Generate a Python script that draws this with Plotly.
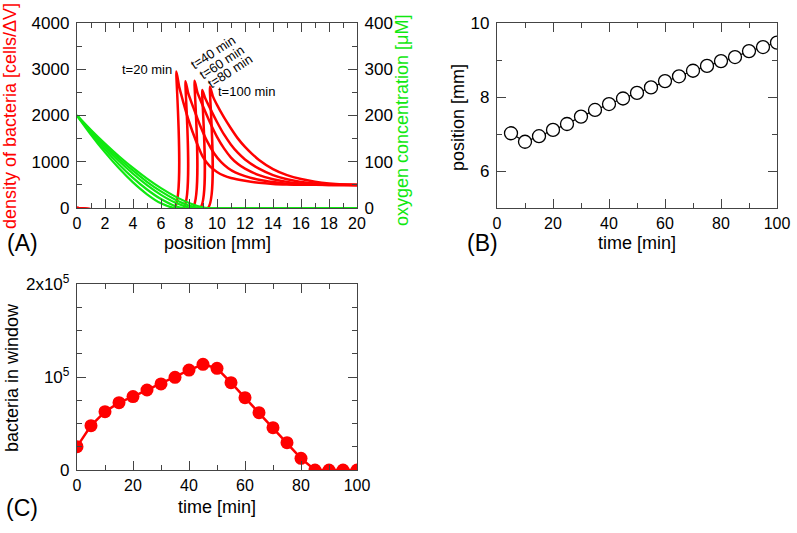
import plotly.graph_objects as go

# ---- panel A: bacteria density profiles (cells/dV) ----
x_t20 = [0, 6.95, 7.1, 7.3, 7.6, 8.0, 8.5, 9.0, 9.5, 10, 10.5, 11, 12, 13, 14, 15, 16, 18, 20]
b_t20 = [0, 0, 2950, 2620, 2280, 1870, 1450, 1100, 900, 780, 700, 650, 590, 545, 520, 508, 502, 500, 500]
x_t40 = [0, 7.6, 7.75, 7.95, 8.3, 8.8, 9.3, 9.8, 10.3, 10.8, 11.3, 12, 13, 14, 15, 16, 17, 18, 20]
b_t40 = [0, 0, 2740, 2480, 2180, 1780, 1440, 1180, 990, 860, 770, 690, 610, 560, 525, 510, 503, 500, 500]
x_t60 = [0, 8.25, 8.4, 8.6, 9.0, 9.5, 10, 10.5, 11, 11.5, 12, 13, 14, 15, 16, 17, 18, 20]
b_t60 = [0, 0, 2750, 2500, 2200, 1850, 1540, 1290, 1090, 950, 850, 710, 620, 565, 530, 512, 503, 500]
x_t80 = [0, 8.8, 8.95, 9.15, 9.5, 10, 10.5, 11, 11.5, 12, 13, 14, 15, 16, 17, 18, 19, 20]
b_t80 = [0, 0, 2550, 2380, 2160, 1860, 1590, 1370, 1190, 1050, 850, 710, 620, 565, 530, 510, 502, 500]
x_t100 = [0, 9.35, 9.5, 9.7, 10, 10.5, 11, 11.5, 12, 12.5, 13, 14, 15, 16, 17, 18, 19, 20]
b_t100 = [0, 0, 2620, 2420, 2230, 1960, 1720, 1500, 1320, 1170, 1040, 840, 710, 625, 568, 530, 508, 500]

# ---- panel A: oxygen profiles (uM) ----
ox_t20 = [0, 1, 2, 3, 4, 5, 6, 6.95, 20]
o_t20 = [200, 158.4, 120.2, 85.7, 55.3, 29.7, 10.1, 0, 0]
ox_t40 = [0, 1, 2, 3, 4, 5, 6, 7, 7.6, 20]
o_t40 = [200, 161.9, 126.5, 94.2, 65.2, 40.0, 19.3, 4.4, 0, 0]
ox_t60 = [0, 1, 2, 3, 4, 5, 6, 7, 8, 8.25, 20]
o_t60 = [200, 164.8, 131.9, 101.5, 74.0, 49.4, 28.5, 11.8, 1.1, 0, 0]
ox_t80 = [0, 1, 2, 3, 4, 5, 6, 7, 8, 8.8, 20]
o_t80 = [200, 166.9, 135.8, 107.0, 80.6, 56.7, 35.9, 18.5, 5.5, 0, 0]
ox_t100 = [0, 1, 2, 3, 4, 5, 6, 7, 8, 9, 9.35, 20]
o_t100 = [200, 168.8, 139.4, 111.9, 86.6, 63.5, 42.9, 25.2, 11.0, 1.4, 0, 0]

# ---- panel B: front position ----
time_b = [5, 10, 15, 20, 25, 30, 35, 40, 45, 50, 55, 60, 65, 70, 75, 80, 85, 90, 95, 100]
front_pos = [7.02, 6.79, 6.94, 7.11, 7.27, 7.47, 7.65, 7.81, 7.96, 8.11,
             8.26, 8.43, 8.56, 8.71, 8.84, 8.97, 9.08, 9.24, 9.35, 9.47]

# ---- panel C: bacteria in window ----
time_c = [0, 5, 10, 15, 20, 25, 30, 35, 40, 45, 50, 55, 60, 65, 70, 75, 80, 85, 90, 95, 100]
bact_window = [25100, 47700, 62700, 72400, 78900, 86000, 92500, 99600, 107500, 113600, 109300,
               93900, 77800, 61600, 45500, 29400, 12500, 0, 0, 0, 0]

W, H = 797, 533
FONT = "Liberation Sans, Arial, sans-serif"
RED = "#ff0000"
GREEN = "#10e810"
AXC = "#444444"


def px(x):
    return x / W


def py(y):
    return 1 - y / H


fig = go.Figure()

for xs, ys in [(x_t20, b_t20), (x_t40, b_t40), (x_t60, b_t60), (x_t80, b_t80), (x_t100, b_t100)]:
    fig.add_trace(go.Scatter(x=xs, y=ys, mode="lines", xaxis="x", yaxis="y",
                             line=dict(color=RED, width=2.5, shape="spline", smoothing=0.5)))
for xs, ys in [(ox_t20, o_t20), (ox_t40, o_t40), (ox_t60, o_t60), (ox_t80, o_t80), (ox_t100, o_t100)]:
    fig.add_trace(go.Scatter(x=xs, y=ys, mode="lines", xaxis="x", yaxis="y2",
                             line=dict(color=GREEN, width=2.2, shape="spline", smoothing=0.6)))

fig.add_trace(go.Scatter(x=time_b, y=front_pos, mode="lines+markers", xaxis="x2", yaxis="y3",
                         line=dict(color="black", width=1.2),
                         marker=dict(symbol="circle", size=13, color="white",
                                     line=dict(color="black", width=1.3))))

fig.add_trace(go.Scatter(x=time_c, y=bact_window, mode="lines+markers", xaxis="x3", yaxis="y4",
                         line=dict(color=RED, width=2.5),
                         marker=dict(symbol="circle", size=13, color=RED)))


def ax(**kw):
    d = dict(showline=True, linecolor=AXC, linewidth=1.3, mirror="ticks", ticks="inside",
             ticklen=9, tickwidth=1.3, tickcolor=AXC, showgrid=False, zeroline=False,
             automargin=False, ticklabelstandoff=3,
             tickfont=dict(family=FONT, size=17, color="black"),
             minor=dict(ticks="inside", ticklen=5, tickcolor=AXC, tickwidth=1.3, showgrid=False))
    minor = kw.pop("minor_dtick", None)
    if minor is not None:
        d["minor"]["dtick"] = minor
    d.update(kw)
    return d


xa = [px(77), px(357)]
xb = [px(497), px(777)]
ytop = [py(208), py(23)]
ybot = [py(470), py(284)]
xfont = dict(family=FONT, size=16, color="black")

fig.update_layout(
    template="none",
    width=W, height=H, margin=dict(l=0, r=0, t=0, b=0, autoexpand=False),
    paper_bgcolor="white", plot_bgcolor="white", showlegend=False,
    font=dict(family=FONT, color="black"),
    xaxis=ax(domain=xa, anchor="y", range=[0, 20], dtick=2, minor_dtick=1,
             tickfont=xfont, ticklabelstandoff=1),
    yaxis=ax(domain=ytop, anchor="x", range=[0, 4000], dtick=1000, minor_dtick=500, mirror=False),
    yaxis2=ax(overlaying="y", side="right", anchor="x", range=[0, 400], dtick=100, minor_dtick=50),
    xaxis2=ax(domain=xb, anchor="y3", range=[0, 100], dtick=20, minor_dtick=10,
              tickfont=xfont, ticklabelstandoff=1),
    yaxis3=ax(domain=ytop, anchor="x2", range=[5, 10], tick0=6, dtick=2, minor_dtick=1),
    xaxis3=ax(domain=xa, anchor="y4", range=[0, 100], dtick=20, minor_dtick=10,
              tickfont=xfont, ticklabelstandoff=1),
    yaxis4=ax(domain=ybot, anchor="x3", range=[0, 200000], tickvals=[0, 100000, 200000],
              ticktext=["0", "10<sup>5</sup>", "2x10<sup>5</sup>"], minor_dtick=25000),
)

# curve labels in panel A
labels = [("t=20 min", 5.0, 2990, 0), ("t=40 min", 9.7, 3360, -33),
          ("t=60 min", 10.33, 3140, -33), ("t=80 min", 10.9, 2950, -33),
          ("t=100 min", 12.1, 2525, 0)]
for txt, lx, ly, ang in labels:
    fig.add_annotation(x=lx, y=ly, xref="x", yref="y", text=txt, showarrow=False,
                       textangle=ang, xanchor="center", yanchor="middle",
                       font=dict(family=FONT, size=13, color="black"))

# axis titles and panel letters
titles = [
    ("position [mm]", 217, 243, 0, "black", 18),
    ("density of bacteria [cells/ΔV]", 10, 116, -90, RED, 18),
    ("oxygen concentration [μM]", 402, 120, -90, GREEN, 18),
    ("time [min]", 637, 243, 0, "black", 18),
    ("position [mm]", 458, 117, -90, "black", 18),
    ("time [min]", 217, 507, 0, "black", 18),
    ("bacteria in window", 12, 378, -90, "black", 18),
    ("(A)", 22, 243, 0, "black", 23),
    ("(B)", 482, 243, 0, "black", 23),
    ("(C)", 22, 508, 0, "black", 23),
]
for txt, tx, ty, ang, col, sz in titles:
    fig.add_annotation(x=px(tx), y=py(ty), xref="paper", yref="paper", text=txt,
                       showarrow=False, textangle=ang, xanchor="center", yanchor="middle",
                       font=dict(family=FONT, size=sz, color=col))

# drop the browser's default 8px body margin so the figure sits at the page corner
fig.write_html("out.html", config={"displayModeBar": False},
               post_script="document.body.style.margin='0';")
